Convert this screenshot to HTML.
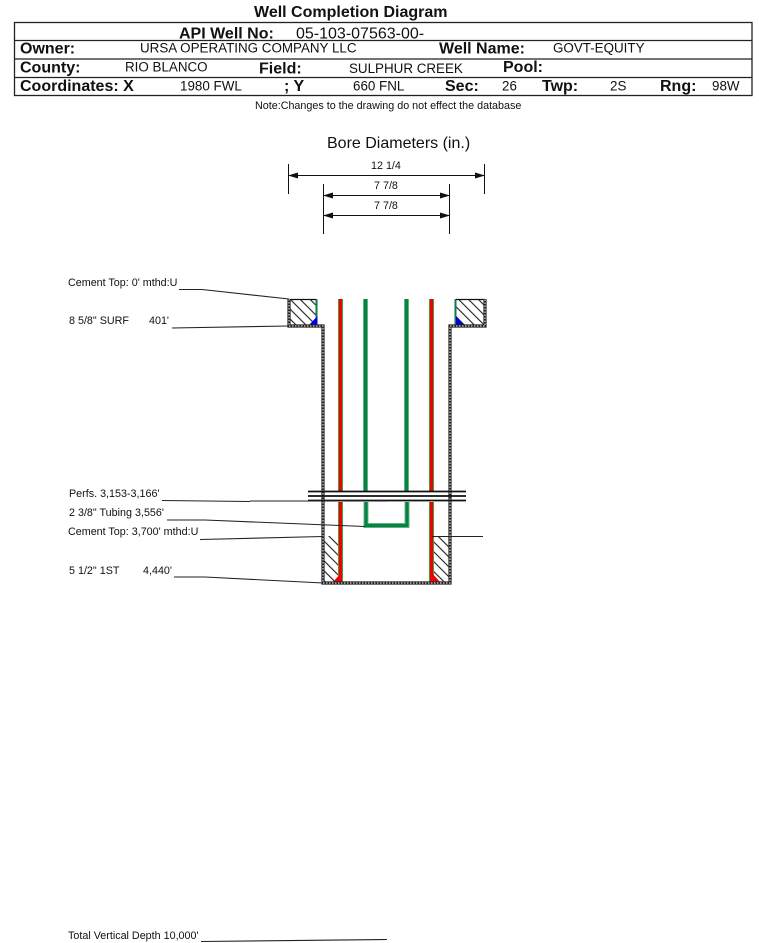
<!DOCTYPE html>
<html><head><meta charset="utf-8"><style>
html,body{margin:0;padding:0;background:#fff}
svg{display:block}
text{font-family:"Liberation Sans",Arial,sans-serif;fill:#111}
.b{font-weight:bold;font-size:16px}
.v{font-size:13.4px}
.s{font-size:10.75px}
</style></head><body>
<svg width="759" height="943" viewBox="0 0 759 943" xmlns="http://www.w3.org/2000/svg">
<defs>
<pattern id="h" width="7" height="7" patternUnits="userSpaceOnUse" patternTransform="rotate(-45)">
<rect width="7" height="7" fill="#fff"/><rect x="0" y="0" width="1.1" height="7" fill="#222"/>
</pattern>
<marker id="ae" markerUnits="userSpaceOnUse" markerWidth="10" markerHeight="6" refX="9" refY="3" orient="auto"><path d="M0 0L10 3L0 6Z" fill="#111"/></marker>
<marker id="as" markerUnits="userSpaceOnUse" markerWidth="10" markerHeight="6" refX="1" refY="3" orient="auto"><path d="M10 0L0 3L10 6Z" fill="#111"/></marker>
</defs>
<rect width="759" height="943" fill="#fff"/>

<!-- Header -->
<text x="254" y="17" class="b">Well Completion Diagram</text>
<g fill="none" stroke="#222" stroke-width="1.3">
<rect x="14.5" y="22.5" width="737.5" height="73"/>
<path d="M15 40.5H752M15 59H752M15 77.5H752"/>
</g>
<text x="179" y="38.5" class="b">API Well No:</text>
<text x="296" y="38.5" style="font-size:16px">05-103-07563-00-</text>
<text x="20" y="53.5" class="b">Owner:</text>
<text x="140" y="52.5" class="v">URSA OPERATING COMPANY LLC</text>
<text x="439" y="53.5" class="b">Well Name:</text>
<text x="553" y="52.5" class="v">GOVT-EQUITY</text>
<text x="20" y="72.5" class="b">County:</text>
<text x="125" y="71.5" class="v">RIO BLANCO</text>
<text x="259" y="73.5" class="b">Field:</text>
<text x="349" y="73" class="v">SULPHUR CREEK</text>
<text x="503" y="72" class="b">Pool:</text>
<text x="20" y="91" class="b">Coordinates: X</text>
<text x="180" y="90.5" class="v">1980 FWL</text>
<text x="284" y="91" class="b">; Y</text>
<text x="353" y="90.5" class="v">660 FNL</text>
<text x="445" y="91" class="b">Sec:</text>
<text x="502" y="90.5" class="v">26</text>
<text x="542" y="91" class="b">Twp:</text>
<text x="610" y="90.5" class="v">2S</text>
<text x="660" y="91" class="b">Rng:</text>
<text x="712" y="90.5" class="v">98W</text>
<text x="255" y="109" class="s">Note:Changes to the drawing do not effect the database</text>

<!-- Bore diameters -->
<text x="327" y="148" style="font-size:16px">Bore Diameters (in.)</text>
<text x="371" y="169" class="s">12 1/4</text>
<text x="374" y="189" class="s">7 7/8</text>
<text x="374" y="209" class="s">7 7/8</text>
<g stroke="#111" stroke-width="1" fill="none">
<path d="M288.5 164V194M484.5 164V194M323.5 184V234M449.5 184V234"/>
<path d="M289 175.5H484" marker-start="url(#as)" marker-end="url(#ae)"/>
<path d="M324 195.5H449" marker-start="url(#as)" marker-end="url(#ae)"/>
<path d="M324 215.5H449" marker-start="url(#as)" marker-end="url(#ae)"/>
</g>

<!-- Cement hatching -->
<rect x="289" y="299" width="27" height="27" fill="url(#h)"/>
<rect x="456" y="299" width="29" height="27" fill="url(#h)"/>
<rect x="323" y="536" width="17" height="47" fill="url(#h)"/>
<rect x="433" y="536" width="17" height="47" fill="url(#h)"/>

<!-- Blue surface casing -->
<path d="M316.5 299V326" stroke="#0a7a50" stroke-width="2" fill="none"/>
<path d="M455.5 299V326" stroke="#0a7a50" stroke-width="2" fill="none"/>
<path d="M317.5 316V325H309Z" fill="#0000e0"/>
<path d="M456 316V325H464Z" fill="#0000e0"/>
<path d="M288 299.5H316M456 299.5H485" stroke="#111" stroke-width="1.2" fill="none"/>

<!-- Red casing -->
<g fill="none">
<path d="M340.5 299V491M340.5 502V583M431.5 299V491M431.5 502V583" stroke="#4a9a40" stroke-width="5"/>
<path d="M340.5 299V491M340.5 502V583M431.5 299V491M431.5 502V583" stroke="#f00000" stroke-width="3"/>
<!-- Green tubing -->
<path d="M365.5 299V491M406.5 299V491M366 502V525.5H407V502" stroke="#6cbf70" stroke-width="5"/>
<path d="M365.5 299V491M406.5 299V491M366 502V525.5H407V502" stroke="#058050" stroke-width="3.2"/>
</g>
<path d="M342 572V583H332Z" fill="#f00000"/>
<path d="M431 572V583H441Z" fill="#f00000"/>

<!-- Outer wall -->
<g fill="none">
<path d="M289 299V326H323V583H450V326H485V299" stroke="#222" stroke-width="3.2"/>
<path d="M289 299V326H323V583H450V326H485V299" stroke="#fff" stroke-width="1" stroke-dasharray="1.5 1.5"/>
</g>

<!-- Perforations -->
<path d="M308 491.5H466M308 496H466M308 500.5H466" stroke="#111" stroke-width="1.8" fill="none"/>

<!-- Leaders -->
<g stroke="#222" stroke-width="1.1" fill="none">
<path d="M179 289.5H202L289 299"/>
<path d="M172 328L289 326"/>
<path d="M162 500.5L250 501.5 M250 501 L387 501"/>
<path d="M167 520L205 520L365 526.5"/>
<path d="M200 539.5L323 536.5"/>
<path d="M432 536.5H483"/>
<path d="M174 577H205L323 583"/>
<path d="M201 941.5L387 939.5"/>
</g>

<!-- Labels -->
<text x="68" y="286" class="s">Cement Top: 0' mthd:U</text>
<text x="69" y="324" class="s">8 5/8" SURF</text>
<text x="149" y="324" class="s">401'</text>
<text x="69" y="497" class="s">Perfs. 3,153-3,166'</text>
<text x="69" y="516" class="s">2 3/8" Tubing 3,556'</text>
<text x="68" y="535" class="s">Cement Top: 3,700' mthd:U</text>
<text x="69" y="574" class="s">5 1/2" 1ST</text>
<text x="143" y="574" class="s">4,440'</text>
<text x="68" y="939" class="s">Total Vertical Depth 10,000'</text>
</svg>
</body></html>
